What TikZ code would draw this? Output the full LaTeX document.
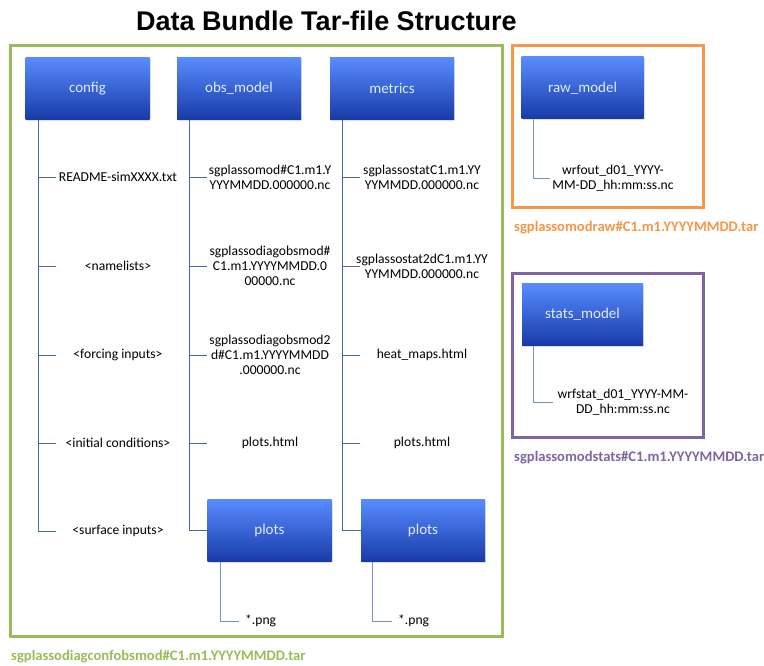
\documentclass[tikz,border=0pt]{standalone}
\usepackage{fontspec}
\setmainfont{Carlito}
\newfontfamily\titlefont{Liberation Sans}
\usetikzlibrary{shadows}
\definecolor{gframe}{HTML}{9BBB59}
\definecolor{oframe}{HTML}{F79646}
\definecolor{pframe}{HTML}{8064A2}
\definecolor{bltop}{RGB}{88,140,255}
\definecolor{blbot}{RGB}{24,58,168}
\definecolor{bltext}{RGB}{225,235,255}
\definecolor{linec}{RGB}{70,105,165}
\definecolor{linel}{RGB}{120,145,190}
\begin{document}
\begin{tikzpicture}[x=1pt,y=-1pt,
  blbox/.style={rectangle, minimum width=124pt, minimum height=62pt, inner sep=0pt,
    top color=bltop, bottom color=blbot, text=bltext, font=\fontsize{15}{18}\selectfont,
    drop shadow={opacity=0.25, shadow xshift=1pt, shadow yshift=-1.5pt}},
  conn/.style={draw=linec, line width=0.8pt},
  connl/.style={draw=linel, line width=0.8pt},
  txt/.style={font=\fontsize{13.6}{15}\selectfont, align=center, inner sep=0pt},
  capt/.style={font=\bfseries\fontsize{14.6}{16}\selectfont, anchor=base west, inner sep=0pt},
  frame/.style={line width=3pt}]
\useasboundingbox (0,0) rectangle (764,666);

% title
\node[font=\titlefont\bfseries\fontsize{27}{30}\selectfont, anchor=base, inner sep=0pt] (title) at (326.5,31) {Data Bundle Tar-file Structure};

% frames
\draw[frame, gframe] (10,46) rectangle (502,636);
\draw[frame, oframe] (512,46) rectangle (703,208);
\draw[frame, pframe] (512,274) rectangle (703,437);

% boxes
\node[blbox] (config) at (87.5,88.5) {config};
\node[blbox] (obs) at (239,88.5) {obs\_model};
\node[blbox] (metrics) at (392,88.5) {metrics};
\node[blbox] (plotsA) at (269.5,530.5) {plots};
\node[blbox] (plotsB) at (423,530.5) {plots};
\node[blbox, minimum width=122pt] (raw) at (582.5,88) {raw\_model};
\node[blbox, minimum width=121pt] (stats) at (582.5,314.5) {stats\_model};

% config texts
\node[txt] (cf1) at (118,177) {README-simXXXX.txt};
\node[txt] (cf2) at (118,266) {<namelists>};
\node[txt] (cf3) at (118,355) {<forcing inputs>};
\node[txt] (cf4) at (118,443) {<initial conditions>};
\node[txt] (cf5) at (118,531) {<surface inputs>};

% obs texts
\node[txt] (ob1) at (270,177) {sgplassomod\#C1.m1.Y\\YYYMMDD.000000.nc};
\node[txt] (ob2) at (270,266) {sgplassodiagobsmod\#\\C1.m1.YYYYMMDD.0\\00000.nc};
\node[txt] (ob3) at (270,355) {sgplassodiagobsmod2\\d\#C1.m1.YYYYMMDD\\.000000.nc};
\node[txt] (ob4) at (270,443) {plots.html};

% metrics texts
\node[txt] (mt1) at (422,177) {sgplassostatC1.m1.YY\\YYMMDD.000000.nc};
\node[txt] (mt2) at (422,266) {sgplassostat2dC1.m1.YY\\YYMMDD.000000.nc};
\node[txt] (mt3) at (422,355) {heat\_maps.html};
\node[txt] (mt4) at (422,443) {plots.html};

% png
\node[txt, anchor=west] (pa) at (245,621) {*.png};
\node[txt, anchor=west] (pb) at (398,621) {*.png};

% right texts
\node[txt] (rw) at (613,178) {wrfout\_d01\_YYYY-\\MM-DD\_hh:mm:ss.nc};
\node[txt] (st) at (623,402) {wrfstat\_d01\_YYYY-MM-\\DD\_hh:mm:ss.nc};

% stub end coordinates
\foreach \r/\yy in {1/177,2/266,3/355,4/443,5/531}{
  \coordinate (cfs\r) at (56,\yy);
}
\foreach \r/\yy in {1/177,2/266,3/355,4/443}{
  \coordinate (obs\r) at (207,\yy);
  \coordinate (mts\r) at (360,\yy);
}
\coordinate (pas) at (239,621);
\coordinate (pbs) at (392,621);
\coordinate (rws) at (550,178);
\coordinate (sts) at (553,402);

% connectors
\foreach \r in {1,...,5}{
  \draw[conn] ([xshift=13pt]config.south west) |- (cfs\r);
}
\foreach \r in {1,...,4}{
  \draw[conn] ([xshift=13pt]obs.south west) |- (obs\r);
  \draw[conn] ([xshift=12.5pt]metrics.south west) |- (mts\r);
}
\draw[conn] ([xshift=13pt]obs.south west) |- (plotsA.west);
\draw[conn] ([xshift=12.5pt]metrics.south west) |- (plotsB.west);
\draw[connl] ([xshift=13pt]plotsA.south west) |- (pas);
\draw[connl] ([xshift=12pt]plotsB.south west) |- (pbs);
\draw[connl] ([xshift=12pt]raw.south west) |- (rws);
\draw[connl] ([xshift=12pt]stats.south west) |- (sts);

% captions
\node[capt, text=gframe] (capg) at (11,660) {sgplassodiagconfobsmod\#C1.m1.YYYYMMDD.tar};
\node[capt, text=oframe] (capo) at (514,232) {sgplassomodraw\#C1.m1.YYYYMMDD.tar};
\node[capt, text=pframe] (capp) at (514,461) {sgplassomodstats\#C1.m1.YYYYMMDD.tar};
\end{tikzpicture}
\end{document}
